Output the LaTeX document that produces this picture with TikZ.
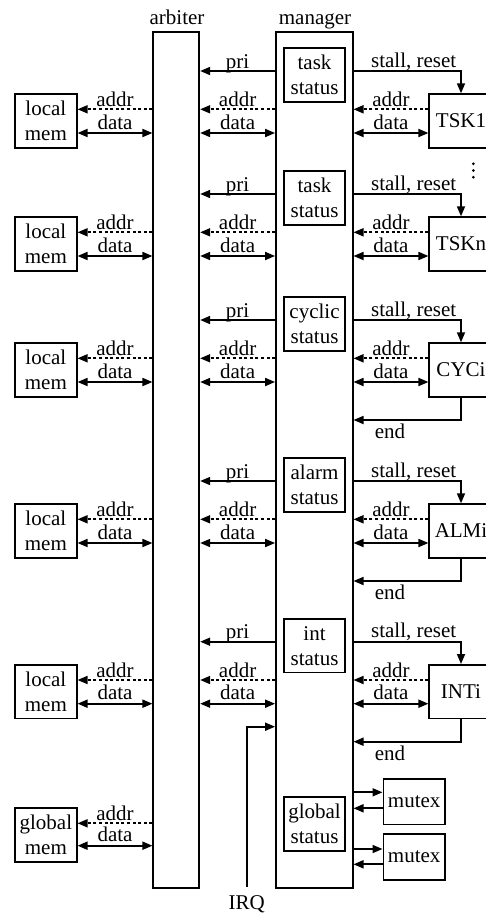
\documentclass[tikz,border=0pt]{standalone}
\usepackage{fontspec}
\setmainfont{Liberation Serif}
\usetikzlibrary{arrows.meta}
\begin{document}
\begin{tikzpicture}[x=1pt,y=-1pt,
  lw/.style={line width=1.7pt},
  txt/.style={font=\fontsize{21}{25}\selectfont},
  box/.style={draw,lw,inner sep=0pt,align=center,txt},
  lbl/.style={inner sep=0pt,txt},
  tip/.tip={Triangle[length=10pt,width=8pt]},
  conn/.style={lw,-tip},
  bi/.style={lw,tip-tip},
  dsh/.style={conn,dash pattern=on 3pt off 2.6pt}]
\clip (0,0) rectangle (486,913);
% main blocks
\node[box,minimum width=46pt,minimum height=856pt] (arb) at (176.3,459.7) {};
\node[box,minimum width=76.7pt,minimum height=856pt] (mgr) at (314.3,459.7) {};
\node[lbl,anchor=base] (arbl) at (177,24) {arbiter};
\node[lbl,anchor=base] (mgrl) at (315,24) {manager};
% sections
\foreach \p/\s/\t/\i/\e in {71/task/TSK1/1/0, 194/task/TSKn/2/0, 320/cyclic/CYCi/3/1, 481/alarm/ALMi/4/1, 641.7/int/INTi/5/1} {
  \node[box,minimum width=61.7pt,minimum height=53.4pt] (lm\i) at (45.85,\p+50) {local\\mem};
  \node[box,minimum width=61pt,minimum height=53.4pt] (st\i) at (314.5,\p+4) {\s\\status};
  \node[box,minimum width=63.4pt,minimum height=53.7pt] (tk\i) at (461,\p+50) {\t};
  \coordinate (pri\i) at (0,\p);
  \coordinate (ad\i) at (0,\p+38.3);
  \coordinate (da\i) at (0,\p+62);
  \coordinate (en\i) at (0,\p+100);
  % arbiter - local mem
  \draw[dsh] (arb.west |- ad\i) -- node[lbl,anchor=base,yshift=3pt]{addr} (lm\i.east |- ad\i);
  \draw[bi] (lm\i.east |- da\i) -- node[lbl,anchor=base,yshift=4pt]{data} (arb.west |- da\i);
  % manager - arbiter
  \draw[conn] (mgr.west |- pri\i) -- node[lbl,anchor=base,yshift=3pt]{pri} (arb.east |- pri\i);
  \draw[dsh] (mgr.west |- ad\i) -- node[lbl,anchor=base,yshift=3pt]{addr} (arb.east |- ad\i);
  \draw[bi] (arb.east |- da\i) -- node[lbl,anchor=base,yshift=4pt]{data} (mgr.west |- da\i);
  % manager - task
  \draw[conn] (mgr.east |- pri\i) -| node[lbl,pos=0.28,anchor=base,yshift=4pt]{stall, reset} (tk\i.north);
  \draw[dsh] (tk\i.west |- ad\i) -- node[lbl,anchor=base,yshift=3pt]{addr} (mgr.east |- ad\i);
  \draw[bi] (mgr.east |- da\i) -- node[lbl,anchor=base,yshift=4pt]{data} (tk\i.west |- da\i);
  \ifnum\e=1
    \draw[conn] (tk\i.south) |- node[lbl,pos=0.83,anchor=base,yshift=-18.5pt]{end} (mgr.east |- en\i);
  \fi
}
% vertical dots
\foreach \yy in {163.8,170.5,177.2} \fill (473.3,\yy) circle (1.5pt);
% global
\node[box,minimum width=61.7pt,minimum height=54pt] (gm) at (45.85,834.7) {global\\mem};
\node[box,minimum width=61pt,minimum height=53.4pt] (gs) at (314.5,824) {global\\status};
\coordinate (gad) at (0,823.3);
\coordinate (gda) at (0,845.7);
\draw[dsh] (arb.west |- gad) -- node[lbl,anchor=base,yshift=3pt]{addr} (gm.east |- gad);
\draw[bi] (gm.east |- gda) -- node[lbl,anchor=base,yshift=4pt]{data} (arb.west |- gda);
% mutexes
\node[box,minimum width=61.7pt,minimum height=45.3pt] (mx1) at (414.2,801.7) {mutex};
\node[box,minimum width=61.7pt,minimum height=46pt] (mx2) at (414.2,857) {mutex};
\coordinate (m1a) at (0,792.3);
\coordinate (m1b) at (0,808.3);
\coordinate (m2a) at (0,849);
\coordinate (m2b) at (0,864.3);
\draw[conn] (mgr.east |- m1a) -- (mx1.west |- m1a);
\draw[conn] (mx1.west |- m1b) -- (mgr.east |- m1b);
\draw[conn] (mgr.east |- m2a) -- (mx2.west |- m2a);
\draw[conn] (mx2.west |- m2b) -- (mgr.east |- m2b);
% IRQ
\node[lbl,anchor=base] (irq) at (246.7,909) {IRQ};
\coordinate (irqs) at (246.7,886.7);
\coordinate (irqy) at (0,726.7);
\draw[conn] (irqs) |- (mgr.west |- irqy);
\end{tikzpicture}
\end{document}
